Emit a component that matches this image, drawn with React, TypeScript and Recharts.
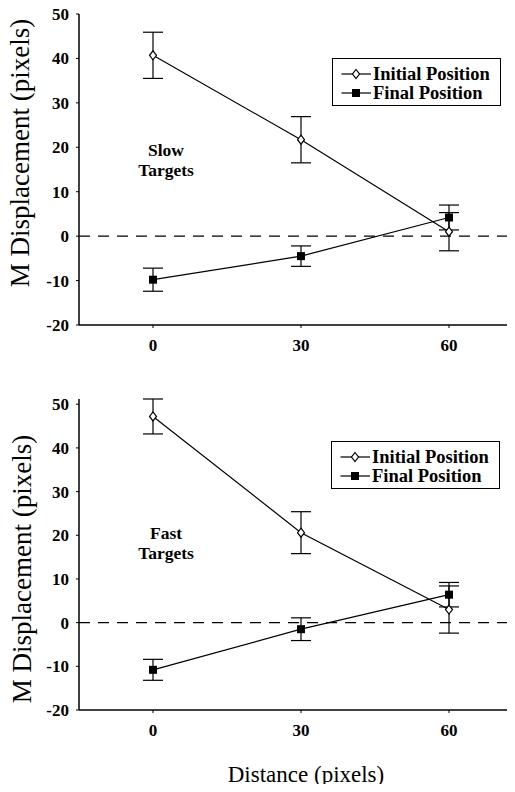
import React from "react";
import { LineChart, Line, XAxis, YAxis, ErrorBar, ReferenceLine } from "recharts";

const distances = [0, 30, 60];
const yTicks = [-20, -10, 0, 10, 20, 30, 40, 50];
const xTicks = [0, 30, 60];

// slow targets
const slowInitial = [40.7, 21.7, 1.0];
const slowInitialErr = [5.2, 5.2, 4.3];
const slowFinal = [-9.8, -4.5, 4.2];
const slowFinalErr = [2.6, 2.3, 2.8];

// fast targets
const fastInitial = [47.2, 20.6, 3.0];
const fastInitialErr = [4.0, 4.8, 5.4];
const fastFinal = [-10.8, -1.5, 6.4];
const fastFinalErr = [2.4, 2.6, 2.8];

const SERIF = "'Liberation Serif', 'Times New Roman', serif";

const build = (init: number[], initErr: number[], fin: number[], finErr: number[]) =>
  distances.map((d, i) => ({ x: d, init: init[i], initErr: initErr[i], fin: fin[i], finErr: finErr[i] }));

const slowData = build(slowInitial, slowInitialErr, slowFinal, slowFinalErr);
const fastData = build(fastInitial, fastInitialErr, fastFinal, fastFinalErr);

const Diamond = (p: any) => {
  const { cx, cy, index } = p;
  if (cx == null || cy == null) return <g key={index} />;
  return (
    <path key={index} d={`M${cx},${cy - 4.5}L${cx + 3.5},${cy}L${cx},${cy + 4.5}L${cx - 3.5},${cy}Z`}
      fill="#fff" stroke="#000" strokeWidth={1.2} />
  );
};

const Square = (p: any) => {
  const { cx, cy, index } = p;
  if (cx == null || cy == null) return <g key={index} />;
  return <rect key={index} x={cx - 4} y={cy - 4} width={8} height={8} fill="#000" />;
};

const tickStyle = { fontSize: 17, fontWeight: 700, fill: "#000", fontFamily: SERIF };

function Panel({ data, top }: { data: any[]; top: number }) {
  return (
    <div style={{ position: "absolute", left: 0, top }}>
      <LineChart width={530} height={355} data={data} margin={{ top: 14, right: 7, bottom: 0, left: 0 }}>
        <XAxis dataKey="x" type="number" domain={[-15, 75]} ticks={xTicks} allowDataOverflow
          height={30} tick={tickStyle} tickSize={3} tickMargin={11}
          axisLine={{ stroke: "#000", strokeWidth: 1.5 }} tickLine={{ stroke: "#000" }} />
        <YAxis type="number" domain={[-20, 50]} ticks={yTicks} width={79}
          tick={tickStyle} tickSize={3} tickMargin={7}
          axisLine={{ stroke: "#000", strokeWidth: 1.5 }} tickLine={{ stroke: "#000" }} />
        <ReferenceLine y={0} stroke="#000" strokeWidth={1.2} strokeDasharray="11 8" />
        <Line dataKey="init" stroke="#000" strokeWidth={1.2} dot={Diamond} isAnimationActive={false}>
          <ErrorBar dataKey="initErr" direction="y" width={10} stroke="#000" strokeWidth={1.2} />
        </Line>
        <Line dataKey="fin" stroke="#000" strokeWidth={1.2} dot={Square} isAnimationActive={false}>
          <ErrorBar dataKey="finErr" direction="y" width={10} stroke="#000" strokeWidth={1.2} />
        </Line>
      </LineChart>
    </div>
  );
}

function LegendBox({ left, top }: { left: number; top: number }) {
  const row = (y: number, label: string, square: boolean) => (
    <div style={{ position: "absolute", left: 0, top: y - 10, height: 20, width: "100%" }}>
      <svg width={40} height={20} style={{ position: "absolute", left: 0, top: 0 }}>
        <line x1={8.5} x2={38} y1={10} y2={10} stroke="#000" strokeWidth={1.2} />
        {square
          ? <rect x={19} y={6} width={8} height={8} fill="#000" />
          : <path d="M23,5.5L26.5,10L23,14.5L19.5,10Z" fill="#fff" stroke="#000" strokeWidth={1.2} />}
      </svg>
      <span style={{ position: "absolute", left: 40, top: 0, lineHeight: "20px", fontSize: 18.5,
        fontWeight: 700, fontFamily: SERIF, whiteSpace: "nowrap" }}>{label}</span>
    </div>
  );
  return (
    <div style={{ position: "absolute", left, top, width: 169, height: 48, border: "1px solid #000",
      background: "#fff", boxSizing: "border-box" }}>
      {row(15, "Initial Position", false)}
      {row(33.5, "Final Position", true)}
    </div>
  );
}

export default function App() {
  return (
    <div style={{ position: "relative", width: 515, height: 792, margin: "-8px 0 -8px -8px",
      overflow: "hidden", background: "#fff" }}>
      <Panel data={slowData} top={0} />
      <Panel data={fastData} top={385} />
      <LegendBox left={332} top={58} />
      <LegendBox left={331} top={441} />
      <svg width={515} height={792} style={{ position: "absolute", left: 0, top: 0, pointerEvents: "none" }}
        fontFamily={SERIF}>
        <text transform="translate(20,153) rotate(-90)" textAnchor="middle" dominantBaseline="central" fontSize={27}>
          M Displacement (pixels)
        </text>
        <text transform="translate(22,569) rotate(-90)" textAnchor="middle" dominantBaseline="central" fontSize={27}>
          M Displacement (pixels)
        </text>
        <text x={166} y={156} textAnchor="middle" fontSize={17.5} fontWeight={700}>Slow</text>
        <text x={166} y={176} textAnchor="middle" fontSize={17.5} fontWeight={700}>Targets</text>
        <text x={166} y={539} textAnchor="middle" fontSize={17.5} fontWeight={700}>Fast</text>
        <text x={166} y={559} textAnchor="middle" fontSize={17.5} fontWeight={700}>Targets</text>
        <text x={306} y={782} textAnchor="middle" fontSize={23}>Distance (pixels)</text>
      </svg>
    </div>
  );
}
